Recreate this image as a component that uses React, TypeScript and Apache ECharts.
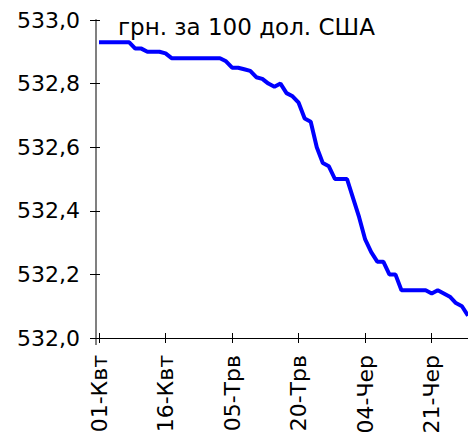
import React, { useEffect, useRef } from "react";
import * as echarts from "echarts";

const categories: string[] = [
  "01-Квт", "02-Квт", "03-Квт", "04-Квт", "07-Квт", "08-Квт", "09-Квт", "10-Квт", "11-Квт", "14-Квт", "15-Квт",
  "16-Квт", "17-Квт", "18-Квт", "21-Квт", "22-Квт", "23-Квт", "24-Квт", "25-Квт", "28-Квт", "29-Квт", "30-Квт",
  "05-Трв", "06-Трв", "07-Трв", "08-Трв", "12-Трв", "13-Трв", "14-Трв", "15-Трв", "16-Трв", "17-Трв", "19-Трв",
  "20-Трв", "21-Трв", "22-Трв", "23-Трв", "26-Трв", "27-Трв", "28-Трв", "29-Трв", "30-Трв", "02-Чер", "03-Чер",
  "04-Чер", "05-Чер", "06-Чер", "09-Чер", "10-Чер", "11-Чер", "12-Чер", "13-Чер", "16-Чер", "17-Чер", "18-Чер",
  "21-Чер", "22-Чер", "23-Чер", "24-Чер", "25-Чер", "26-Чер", "27-Чер",
];

const rates: number[] = [
  532.93, 532.93, 532.93, 532.93, 532.93, 532.93, 532.91, 532.91, 532.9, 532.9, 532.9,
  532.895, 532.88, 532.88, 532.88, 532.88, 532.88, 532.88, 532.88, 532.88, 532.88, 532.87,
  532.85, 532.85, 532.845, 532.84, 532.82, 532.815, 532.8, 532.79, 532.8, 532.77, 532.76,
  532.74, 532.69, 532.68, 532.6, 532.55, 532.54, 532.5, 532.5, 532.5, 532.44, 532.38,
  532.31, 532.27, 532.24, 532.24, 532.2, 532.2, 532.15, 532.15, 532.15, 532.15, 532.15,
  532.14, 532.15, 532.14, 532.13, 532.11, 532.1, 532.07,
];

const unitLabel = "грн. за 100 дол. США";
const yMin = 532.0;
const yMax = 533.0;
const yStep = 0.2;

const FONT = "DejaVu Sans";

export default function App() {
  const ref = useRef<HTMLDivElement>(null);

  useEffect(() => {
    if (!ref.current) return;
    const chart = echarts.init(ref.current, undefined, { renderer: "svg" });
    const yFmt = (v: number) => v.toFixed(1).replace(".", ",");
    chart.setOption({
      animation: false,
      backgroundColor: "#ffffff",
      grid: { left: 99, right: -3, top: 20, bottom: 101, containLabel: false },
      graphic: [
        {
          type: "text",
          x: 118,
          y: 27,
          style: {
            text: unitLabel,
            font: `23px "${FONT}"`,
            fill: "#000000",
            align: "left",
            verticalAlign: "middle",
          },
        },
        {
          type: "line",
          shape: { x1: 96, y1: 338, x2: 96, y2: 345 },
          style: { stroke: "#808080", lineWidth: 2 },
          z: 0,
        },
      ],
      xAxis: [
        {
          type: "category",
          position: "bottom",
          data: categories,
          boundaryGap: false,
          axisLine: { show: true, onZero: false, lineStyle: { color: "#000000", width: 1 } },
          axisTick: { show: true, interval: 10, length: 5, lineStyle: { color: "#000000", width: 1 } },
          axisLabel: {
            interval: 10,
            rotate: 90,
            margin: 17,
            color: "#000000",
            fontFamily: FONT,
            fontSize: 22,
          },
          splitLine: { show: false },
        },
        {
          type: "category",
          position: "bottom",
          data: categories,
          boundaryGap: false,
          axisLine: { show: false, onZero: false },
          axisTick: { show: true, inside: true, interval: 10, length: 5, lineStyle: { color: "#000000", width: 1 } },
          axisLabel: { show: false },
          splitLine: { show: false },
        },
      ],
      yAxis: [
        {
          type: "value",
          position: "left",
          offset: 3,
          min: yMin,
          max: yMax,
          interval: yStep,
          axisLine: { show: true, onZero: false, lineStyle: { color: "#808080", width: 2 } },
          axisTick: { show: true, length: 6, lineStyle: { color: "#000000", width: 1 } },
          axisLabel: {
            margin: 16,
            color: "#000000",
            fontFamily: FONT,
            fontSize: 22,
            formatter: yFmt,
          },
          splitLine: { show: false },
        },
        {
          type: "value",
          position: "left",
          offset: 3,
          min: yMin,
          max: yMax,
          interval: yStep,
          axisLine: { show: false, onZero: false },
          axisTick: { show: true, inside: true, length: 4, lineStyle: { color: "#000000", width: 1 } },
          axisLabel: { show: false },
          splitLine: { show: false },
        },
      ],
      series: [
        {
          type: "line",
          xAxisIndex: 0,
          yAxisIndex: 0,
          data: rates,
          symbol: "none",
          lineStyle: { color: "#0000ff", width: 4 },
          itemStyle: { color: "#0000ff" },
        },
      ],
    });
    return () => chart.dispose();
  }, []);

  return (
    <div
      ref={ref}
      style={{ position: "absolute", left: 0, top: 0, width: 468, height: 439 }}
    />
  );
}
